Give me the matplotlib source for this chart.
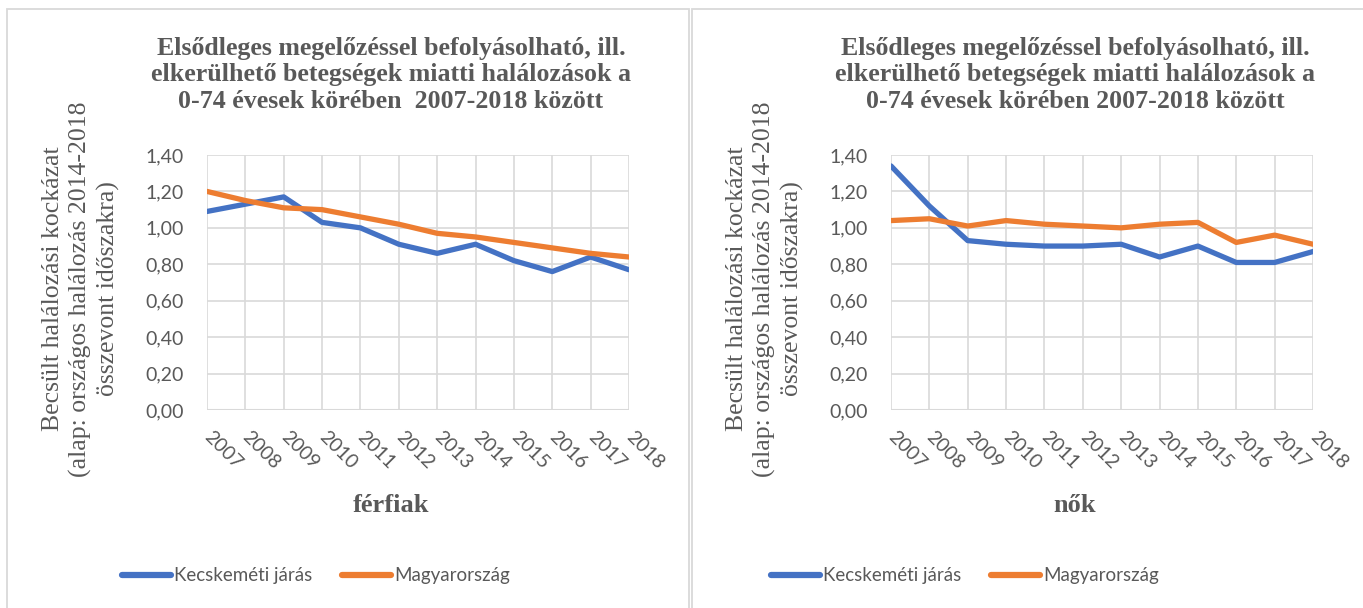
import matplotlib
matplotlib.use("Agg")
import matplotlib.pyplot as plt
from matplotlib.lines import Line2D
from matplotlib.patches import Rectangle

years = ["2007", "2008", "2009", "2010", "2011", "2012",
         "2013", "2014", "2015", "2016", "2017", "2018"]

# Férfiak
men_kecskemet = [1.09, 1.13, 1.17, 1.03, 1.00, 0.91, 0.86, 0.91, 0.82, 0.76, 0.84, 0.77]
men_hungary = [1.20, 1.15, 1.11, 1.10, 1.06, 1.02, 0.97, 0.95, 0.92, 0.89, 0.86, 0.84]

# Nők
women_kecskemet = [1.34, 1.12, 0.93, 0.91, 0.90, 0.90, 0.91, 0.84, 0.90, 0.81, 0.81, 0.87]
women_hungary = [1.04, 1.05, 1.01, 1.04, 1.02, 1.01, 1.00, 1.02, 1.03, 0.92, 0.96, 0.91]

yticks = [0.0, 0.2, 0.4, 0.6, 0.8, 1.0, 1.2, 1.4]
series_names = ["Kecskeméti járás", "Magyarország"]

titles = [
    "Elsődleges megelőzéssel befolyásolható, ill.\n"
    "elkerülhető betegségek miatti halálozások a\n"
    "0-74 évesek körében  2007-2018 között",
    "Elsődleges megelőzéssel befolyásolható, ill.\n"
    "elkerülhető betegségek miatti halálozások a\n"
    "0-74 évesek körében 2007-2018 között",
]
xlabels = ["férfiak", "nők"]
ylabel = ("Becsült halálozási kockázat\n"
          "(alap: országos halálozás 2014-2018\n"
          "összevont időszakra)")

BLUE = "#4472C4"
ORANGE = "#ED7D31"
GRID = "#D9D9D9"
TEXT = "#595959"
SERIF = "Liberation Serif"
SANS = "Lato"

W, H = 1363, 608
fig = plt.figure(figsize=(W / 100, H / 100), dpi=100)


def fx(px):
    return px / W


def fy(py):
    return 1 - py / H


# chart frames
for x0, x1 in [(7, 689), (692, 1370)]:
    fig.patches.append(Rectangle((fx(x0), fy(620)), fx(x1 - x0), (620 - 9) / H,
                                 transform=fig.transFigure, fill=False,
                                 edgecolor=GRID, linewidth=1.3))

panels = [
    dict(left=207, data=(men_kecskemet, men_hungary), title_x=391,
         ylab_x=81, legend_x=316),
    dict(left=891, data=(women_kecskemet, women_hungary), title_x=1075,
         ylab_x=765, legend_x=965),
]

for i, p in enumerate(panels):
    ax = fig.add_axes([fx(p["left"]), fy(410), fx(422), 255 / H])
    x = list(range(len(years)))
    ax.plot(x, p["data"][0], color=BLUE, lw=3.8, solid_capstyle="round", zorder=3)
    ax.plot(x, p["data"][1], color=ORANGE, lw=3.8, solid_capstyle="round", zorder=3)
    ax.set_xlim(0, len(years) - 1)
    ax.set_ylim(0, 1.4)
    ax.set_yticks(yticks)
    ax.set_yticklabels([f"{v:.2f}".replace(".", ",") for v in yticks],
                       fontsize=14, color=TEXT, family=SANS)
    ax.set_xticks(x)
    ax.set_xticklabels(years, fontsize=14, color=TEXT, family=SANS,
                       rotation=-45, ha="left", va="center",
                       rotation_mode="anchor")
    ax.tick_params(axis="y", length=0, pad=17)
    ax.tick_params(axis="x", length=0, pad=17)
    ax.grid(True, color=GRID, lw=1.2)
    ax.set_axisbelow(True)
    for s in ax.spines.values():
        s.set_visible(False)
    ax.axhline(0, color=GRID, lw=1.5, zorder=2)

    fig.text(fx(p["title_x"]), fy(75), titles[i], ha="center", va="center",
             fontsize=18.6, fontweight="bold", family=SERIF, color=TEXT,
             linespacing=1.2)
    fig.text(fx(p["title_x"]), fy(506), xlabels[i], ha="center", va="center",
             fontsize=19, fontweight="bold", family=SERIF, color=TEXT)
    fig.text(fx(p["ylab_x"]), fy(289), ylabel, ha="center", va="center",
             rotation=90, fontsize=18.5, family=SERIF, color=TEXT,
             linespacing=1.25)

    handles = [Line2D([], [], color=BLUE, lw=4.5, solid_capstyle="round"),
               Line2D([], [], color=ORANGE, lw=4.5, solid_capstyle="round")]
    fig.legend(handles, series_names, loc="center",
               bbox_to_anchor=(fx(p["legend_x"]), fy(576)), ncol=2,
               frameon=False, handlelength=2.6, handletextpad=0.15,
               columnspacing=1.6, prop=dict(family=SANS, size=13.5),
               labelcolor=TEXT)

fig.savefig("out.png", dpi=100)
